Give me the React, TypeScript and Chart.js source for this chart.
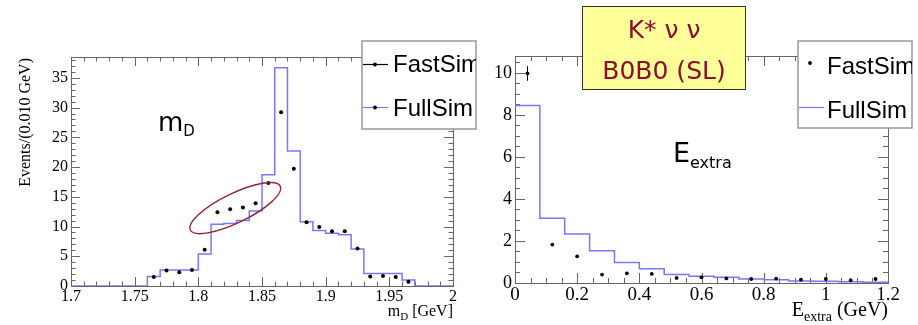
import React, { useEffect, useRef } from "react";
import { Chart, registerables } from "chart.js";
Chart.register(...registerables);

// ---------------- Left panel: m_D ----------------
const mdBinEdges = [
  1.7, 1.71, 1.72, 1.73, 1.74, 1.75, 1.76, 1.77, 1.78, 1.79, 1.8, 1.81, 1.82, 1.83, 1.84, 1.85,
  1.86, 1.87, 1.88, 1.89, 1.9, 1.91, 1.92, 1.93, 1.94, 1.95, 1.96, 1.97, 1.98, 1.99, 2.0,
];
const mdFullSim = [
  0, 0, 0, 0, 0, 0, 1.6, 2.7, 2.7, 2.7, 5.4, 10.4, 10.5, 11.0, 12.6, 18.7, 36.7, 22.7, 10.8, 9.35,
  8.85, 8.6, 6.2, 2.1, 2.1, 2.1, 1.0, 0, 0, 0,
];
const mdFastSim: (number | null)[] = [
  null, null, null, null, null, null, 1.5, 2.6, 2.3, 2.7, 6.1, 12.4, 12.9, 13.2, 13.9, 17.3, 29.2,
  19.7, 10.7, 9.9, 9.2, 9.2, 6.3, 1.6, 1.7, 1.5, 0.7, null, null, null,
];
const mdXTicks = [1.7, 1.75, 1.8, 1.85, 1.9, 1.95, 2];
const mdYTicks = [0, 5, 10, 15, 20, 25, 30, 35];
const mdYMax = 38.5;
const mdEllipse = { x: 1.829, y: 13.1 };

// ---------------- Right panel: E_extra ----------------
const eBinEdges = [0, 0.08, 0.16, 0.24, 0.32, 0.4, 0.48, 0.56, 0.64, 0.72, 0.8, 0.88, 0.96, 1.04, 1.12, 1.2];
const eFullSim = [8.44, 3.08, 2.33, 1.54, 0.97, 0.68, 0.41, 0.32, 0.27, 0.19, 0.16, 0.1, 0.08, 0.06, 0.03];
const eFastSim: (number | null)[] = [9.97, 1.83, 1.27, 0.4, 0.46, 0.43, 0.24, 0.27, 0.22, 0.19, 0.21, 0.16, 0.19, 0.13, 0.19];
const eFastSimErr = [0.35, 0, 0, 0, 0, 0, 0, 0, 0, 0, 0, 0, 0, 0, 0];
const eXTicks = [0, 0.2, 0.4, 0.6, 0.8, 1, 1.2];
const eYTicks = [0, 2, 4, 6, 8, 10];
const eYMax = 10.8;

const legendLabels = ["FastSim", "FullSim"];

const BLUE = "#7878ff";
const FRAME = "#666";
const SERIF = "'Liberation Serif', 'DejaVu Serif', serif";
const SANS = "'Liberation Sans', Arial, sans-serif";
const COMIC = "'DejaVu Sans', sans-serif";

function histPoints(edges: number[], vals: number[]) {
  const pts = vals.map((v, i) => ({ x: edges[i], y: v }));
  pts.push({ x: edges[edges.length - 1], y: vals[vals.length - 1] });
  return pts;
}
function centerPoints(edges: number[], vals: (number | null)[]) {
  const out: { x: number; y: number; i: number }[] = [];
  vals.forEach((v, i) => {
    if (v !== null) out.push({ x: (edges[i] + edges[i + 1]) / 2, y: v, i });
  });
  return out;
}
const fmt = (v: any) => String(+Number(v).toFixed(4));

type TickSpec = { minorStep: number; majorEvery: number; majorLen: number; minorLen: number };

function drawFrameTicks(chart: any, xs: TickSpec, ys: TickSpec) {
  const { ctx, chartArea: a, scales } = chart;
  const x = scales.x, y = scales.y;
  ctx.save();
  ctx.strokeStyle = FRAME;
  ctx.lineWidth = 1;
  ctx.beginPath();
  const nx = Math.round((x.max - x.min) / xs.minorStep);
  for (let i = 0; i <= nx; i++) {
    const v = x.min + i * xs.minorStep;
    const len = i % xs.majorEvery === 0 ? xs.majorLen : xs.minorLen;
    const px = Math.round(x.getPixelForValue(v)) + 0.5;
    ctx.moveTo(px, a.bottom);
    ctx.lineTo(px, a.bottom - len);
    ctx.moveTo(px, a.top);
    ctx.lineTo(px, a.top + len);
  }
  const ny = Math.floor((y.max - y.min) / ys.minorStep + 1e-6);
  for (let i = 0; i <= ny; i++) {
    const v = y.min + i * ys.minorStep;
    const len = i % ys.majorEvery === 0 ? ys.majorLen : ys.minorLen;
    const py = Math.round(y.getPixelForValue(v)) + 0.5;
    ctx.moveTo(a.left, py);
    ctx.lineTo(a.left + len, py);
    ctx.moveTo(a.right, py);
    ctx.lineTo(a.right - len, py);
  }
  ctx.stroke();
  ctx.strokeRect(Math.round(a.left) + 0.5, Math.round(a.top) + 0.5, Math.round(a.width), Math.round(a.height));
  ctx.restore();
}

type LegendRow = { label: string; lineColor: string | null; lineX0: number; lineX1: number; dotX: number | null; markY: number; textBase: number };
function drawLegend(ctx: CanvasRenderingContext2D, box: { x: number; y: number; w: number; h: number }, textX: number, rows: LegendRow[]) {
  ctx.save();
  ctx.fillStyle = "#fff";
  ctx.fillRect(box.x, box.y, box.w, box.h);
  ctx.strokeStyle = "#999";
  ctx.lineWidth = 1.5;
  ctx.strokeRect(box.x, box.y, box.w, box.h);
  ctx.beginPath();
  ctx.rect(box.x, box.y, box.w, box.h);
  ctx.clip();
  rows.forEach((r) => {
    if (r.lineColor) {
      ctx.strokeStyle = r.lineColor;
      ctx.lineWidth = 1.2;
      ctx.beginPath();
      ctx.moveTo(r.lineX0, r.markY);
      ctx.lineTo(r.lineX1, r.markY);
      ctx.stroke();
    }
    if (r.dotX !== null) {
      ctx.fillStyle = "#000";
      ctx.beginPath();
      ctx.arc(r.dotX, r.markY, 1.9, 0, Math.PI * 2);
      ctx.fill();
    }
    ctx.fillStyle = "#000";
    ctx.font = `24px ${SANS}`;
    ctx.textAlign = "left";
    ctx.textBaseline = "alphabetic";
    ctx.fillText(r.label, textX, r.textBase);
  });
  ctx.restore();
}

function drawSubText(ctx: CanvasRenderingContext2D, parts: { t: string; font: string; dy: number }[], x: number, base: number, align: "left" | "right") {
  ctx.save();
  ctx.fillStyle = "#000";
  ctx.textBaseline = "alphabetic";
  ctx.textAlign = "left";
  let total = 0;
  parts.forEach((p) => {
    ctx.font = p.font;
    total += ctx.measureText(p.t).width;
  });
  let cx = align === "right" ? x - total : x;
  parts.forEach((p) => {
    ctx.font = p.font;
    ctx.fillText(p.t, cx, base + p.dy);
    cx += ctx.measureText(p.t).width;
  });
  ctx.restore();
}

function makeLeftConfig(): any {
  const plugin = {
    id: "leftDecor",
    beforeDatasetsDraw(chart: any) {
      drawFrameTicks(chart, { minorStep: 0.01, majorEvery: 5, majorLen: 9, minorLen: 4.5 }, { minorStep: 1, majorEvery: 5, majorLen: 9, minorLen: 4.5 });
    },
    afterDatasetsDraw(chart: any) {
      const { ctx, scales } = chart;
      ctx.save();
      ctx.strokeStyle = "#8a2a35";
      ctx.lineWidth = 1.4;
      ctx.beginPath();
      ctx.ellipse(scales.x.getPixelForValue(mdEllipse.x), scales.y.getPixelForValue(mdEllipse.y), 50, 14.6, (-26 * Math.PI) / 180, 0, Math.PI * 2);
      ctx.stroke();
      ctx.restore();
    },
    afterDraw(chart: any) {
      const { ctx, chartArea: a } = chart;
      drawSubText(ctx, [
        { t: "m", font: `26px ${COMIC}`, dy: 0 },
        { t: "D", font: `15px ${COMIC}`, dy: 5 },
      ], 158, 131, "left");
      drawSubText(ctx, [
        { t: "m", font: `16px ${SERIF}`, dy: 0 },
        { t: "D", font: `11px ${SERIF}`, dy: 4 },
        { t: " [GeV]", font: `16px ${SERIF}`, dy: 0 },
      ], a.right, 316, "right");
      ctx.save();
      ctx.translate(26, 58);
      ctx.rotate(-Math.PI / 2);
      ctx.font = `16px ${SERIF}`;
      ctx.fillStyle = "#000";
      ctx.textAlign = "right";
      ctx.textBaseline = "middle";
      ctx.fillText("Events/(0.010 GeV)", 0, 0);
      ctx.restore();
      drawLegend(ctx, { x: 362, y: 41, w: 114, h: 88 }, 393, [
        { label: legendLabels[0], lineColor: "#000", lineX0: 363, lineX1: 388, dotX: 375, markY: 64.5, textBase: 72 },
        { label: legendLabels[1], lineColor: BLUE, lineX0: 363, lineX1: 388, dotX: 375, markY: 107.5, textBase: 115.5 },
      ]);
    },
  };
  return {
    type: "line",
    data: {
      datasets: [
        { label: legendLabels[1], data: histPoints(mdBinEdges, mdFullSim), stepped: "before", borderColor: BLUE, borderWidth: 1.5, pointRadius: 0, fill: false, order: 2 },
        { label: legendLabels[0], data: centerPoints(mdBinEdges, mdFastSim), showLine: false, pointRadius: 2, pointBackgroundColor: "#000", pointBorderWidth: 0, order: 1 },
      ],
    },
    options: {
      responsive: false,
      animation: false,
      events: [],
      layout: { padding: { left: 0, top: 57, right: 24, bottom: 0 } },
      plugins: { legend: { display: false }, tooltip: { enabled: false } },
      scales: {
        x: {
          type: "linear", min: 1.7, max: 2.0,
          grid: { display: false, drawTicks: false }, border: { display: false },
          ticks: { font: { family: SERIF, size: 16 }, color: "#000", padding: 1, maxRotation: 0, autoSkip: false, callback: fmt },
          afterBuildTicks: (s: any) => { s.ticks = mdXTicks.map((v) => ({ value: v })); },
          afterFit: (s: any) => { s.height = 39; },
        },
        y: {
          type: "linear", min: 0, max: mdYMax,
          grid: { display: false, drawTicks: false }, border: { display: false },
          ticks: { font: { family: SERIF, size: 16 }, color: "#000", padding: 3, autoSkip: false, callback: fmt },
          afterBuildTicks: (s: any) => { s.ticks = mdYTicks.map((v) => ({ value: v })); },
          afterFit: (s: any) => { s.width = 71; },
        },
      },
    },
    plugins: [plugin],
  };
}

function makeRightConfig(): any {
  const fast = centerPoints(eBinEdges, eFastSim);
  const plugin = {
    id: "rightDecor",
    beforeDatasetsDraw(chart: any) {
      drawFrameTicks(chart, { minorStep: 0.05, majorEvery: 4, majorLen: 10, minorLen: 5 }, { minorStep: 0.5, majorEvery: 4, majorLen: 10, minorLen: 5 });
    },
    afterDatasetsDraw(chart: any) {
      const { ctx, scales } = chart;
      ctx.save();
      ctx.strokeStyle = "#000";
      ctx.lineWidth = 1;
      ctx.beginPath();
      fast.forEach((p) => {
        const e = eFastSimErr[p.i];
        if (e > 0) {
          const px = Math.round(scales.x.getPixelForValue(p.x)) + 0.5;
          ctx.moveTo(px, scales.y.getPixelForValue(p.y - e));
          ctx.lineTo(px, scales.y.getPixelForValue(p.y + e));
        }
      });
      ctx.stroke();
      ctx.restore();
    },
    afterDraw(chart: any) {
      const { ctx, chartArea: a } = chart;
      drawSubText(ctx, [
        { t: "E", font: `27px ${COMIC}`, dy: 0 },
        { t: "extra", font: `16px ${COMIC}`, dy: 6 },
      ], 196, 162, "left");
      drawSubText(ctx, [
        { t: "E", font: `20px ${SERIF}`, dy: 0 },
        { t: "extra", font: `14px ${SERIF}`, dy: 5 },
        { t: " (GeV)", font: `20px ${SERIF}`, dy: 0 },
      ], a.right, 316, "right");
      drawLegend(ctx, { x: 321, y: 41, w: 114, h: 87 }, 350, [
        { label: legendLabels[0], lineColor: null, lineX0: 0, lineX1: 0, dotX: 333, markY: 63, textBase: 74 },
        { label: legendLabels[1], lineColor: BLUE, lineX0: 322, lineX1: 347, dotX: null, markY: 107.5, textBase: 118 },
      ]);
    },
  };
  return {
    type: "line",
    data: {
      datasets: [
        { label: legendLabels[1], data: histPoints(eBinEdges, eFullSim), stepped: "before", borderColor: BLUE, borderWidth: 1.5, pointRadius: 0, fill: false, order: 2 },
        { label: legendLabels[0], data: fast, showLine: false, pointRadius: 1.9, pointBackgroundColor: "#000", pointBorderWidth: 0, order: 1 },
      ],
    },
    options: {
      responsive: false,
      animation: false,
      events: [],
      layout: { padding: { left: 0, top: 56, right: 30, bottom: 0 } },
      plugins: { legend: { display: false }, tooltip: { enabled: false } },
      scales: {
        x: {
          type: "linear", min: 0, max: 1.2,
          grid: { display: false, drawTicks: false }, border: { display: false },
          ticks: { font: { family: SERIF, size: 19 }, color: "#000", padding: 1, maxRotation: 0, autoSkip: false, callback: fmt },
          afterBuildTicks: (s: any) => { s.ticks = eXTicks.map((v) => ({ value: v })); },
          afterFit: (s: any) => { s.height = 42; },
        },
        y: {
          type: "linear", min: 0, max: eYMax,
          grid: { display: false, drawTicks: false }, border: { display: false },
          ticks: { font: { family: SERIF, size: 18 }, color: "#000", padding: 3, autoSkip: false, callback: fmt },
          afterBuildTicks: (s: any) => { s.ticks = eYTicks.map((v) => ({ value: v })); },
          afterFit: (s: any) => { s.width = 38; },
        },
      },
    },
    plugins: [plugin],
  };
}

export default function App() {
  const leftRef = useRef<HTMLCanvasElement>(null);
  const rightRef = useRef<HTMLCanvasElement>(null);
  useEffect(() => {
    const c1 = new Chart(leftRef.current as HTMLCanvasElement, makeLeftConfig());
    const c2 = new Chart(rightRef.current as HTMLCanvasElement, makeRightConfig());
    return () => {
      c1.destroy();
      c2.destroy();
    };
  }, []);
  const boxText: React.CSSProperties = {
    position: "absolute", left: 0, width: "100%", textAlign: "center",
    fontFamily: COMIC, fontSize: 25, color: "#8a0f2e", lineHeight: "41px", whiteSpace: "nowrap",
  };
  return (
    <div style={{ position: "absolute", left: 0, top: 0, width: 918, height: 325, background: "#fff", overflow: "hidden" }}>
      <div style={{ position: "absolute", left: 0, top: 0, width: 477, height: 325 }}>
        <canvas ref={leftRef} width={477} height={325} style={{ display: "block", width: 477, height: 325 }} />
      </div>
      <div style={{ position: "absolute", left: 477, top: 0, width: 441, height: 325, background: "#fff" }}>
        <canvas ref={rightRef} width={441} height={325} style={{ display: "block", width: 441, height: 325 }} />
      </div>
      <div style={{ position: "absolute", left: 582, top: 6, width: 164, height: 84, boxSizing: "border-box", background: "#ffff99", border: "1.5px solid #333" }}>
        <div style={{ ...boxText, top: 2 }}>K* ν ν</div>
        <div style={{ ...boxText, top: 43 }}>B0B0 (SL)</div>
      </div>
    </div>
  );
}
